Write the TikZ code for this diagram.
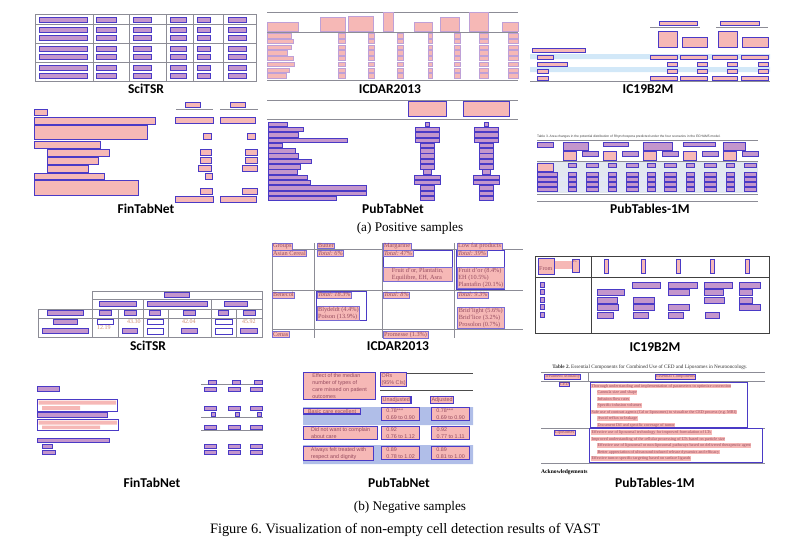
\documentclass[tikz,border=0pt]{standalone}
\usepackage{fontspec}
\setmainfont{Liberation Serif}
\newfontfamily\namefont{Carlito}
\newfontfamily\tabsans{Liberation Sans}
\usetikzlibrary{positioning}
\frenchspacing
\definecolor{cellpink}{RGB}{246,184,182}
\definecolor{densepink}{RGB}{196,150,204}
\definecolor{cellblue}{RGB}{74,58,198}
\definecolor{celllav}{RGB}{190,160,215}
\definecolor{rulegray}{RGB}{140,140,150}
\definecolor{celltext}{RGB}{150,75,95}
\definecolor{misstext}{RGB}{205,140,110}
\definecolor{skyband}{RGB}{210,232,248}
\definecolor{rowband}{RGB}{176,190,232}
\definecolor{greyband}{RGB}{226,232,240}
\newcommand{\Pt}[2]{\fontsize{#1}{#2}\selectfont}
\tikzset{
    cell/.style={draw=cellblue, fill=cellpink, line width=0.7pt},
    dense/.style={cell, fill=densepink},
    softcell/.style={draw=celllav, fill=cellpink, line width=0.4pt},
    hollow/.style={draw=cellblue, line width=0.7pt},
    rule/.style={draw=rulegray, line width=0.5pt},
    setname/.style={font=\namefont\bfseries\Pt{13.5}{15}},
    subcap/.style={font=\Pt{13.2}{15}},
    txt/.style={inner sep=0pt, anchor=north west, align=left, text=celltext},
    celltxt/.style={cell, draw=cellblue!75, line width=0.5pt, inner sep=0.8pt,
        anchor=north west, align=left, text=celltext, font=\Pt{6.3}{6.8}},
    ptcell/.style={cell, line width=1.2pt, inner sep=1pt, anchor=north west,
        align=left, text=celltext, font=\tabsans\Pt{5.4}{7}},
    ptmcell/.style={cell, line width=0.6pt, inner sep=0.6pt, anchor=north west,
        text=celltext, font=\Pt{4.4}{5}},
    ptmline/.style={fill=cellpink, inner sep=0.4pt, anchor=north west,
        text=celltext, font=\Pt{4.2}{5}},
}
\begin{document}
\begin{tikzpicture}[x=1pt, y=-1pt]
  \useasboundingbox (0,0) rectangle (796,554);

  % ---- (a) positive samples ----
  % SciTSR
  \draw[rule] (35,14) rectangle (256,81);
  \foreach \x in {93,129,166,193,223} \draw[rule] (\x,14) -- (\x,81);
  \foreach \y in {24,43,62} \draw[rule] (35,\y) -- (256,\y);
  \foreach \y in {17,27,35,46,54,65,73}
    \foreach \a/\b in {39/87,96/116,133/151,170/186,197/210,228/246}
      \draw[dense] (\a,\y) rectangle (\b,\y+5);
  \node[setname] (sciPos) at (146,89) {SciTSR};

  % ICDAR2013
  \draw[rule] (267,12) -- (518,12) (267,32) -- (518,32) (267,80) -- (518,80);
  \foreach \a/\t/\b in {267/22/298, 320/17/345, 348/16/373, 383/12/393,
      414/22/432, 440/17/459, 469/12/488, 502/22/518}
    \draw[softcell] (\a,\t) rectangle (\b,31);
  \foreach \i/\w in {0/24,1/26,2/24,3/20,4/26,5/27,6/22,7/19} {
    \draw[softcell] (267,33.5+\i*5.7) rectangle (267+\w,37.8+\i*5.7);
    \foreach \a/\b in {338/345,368/374,397/403,428/432,454/460,479/488,508/518}
      \draw[softcell] (\a,33.5+\i*5.7) rectangle (\b,37.8+\i*5.7);
  }
  \node[setname] (icdarPos) at (390,89) {ICDAR2013};

  % IC19B2M
  \fill[skyband] (530,54) rectangle (770,59) (530,67) rectangle (770,72);
  \draw[rule] (650,27) -- (700,27) (716,27) -- (768,27) (530,81) -- (770,81);
  \draw[cell] (659,21) rectangle (697,25) (720,21) rectangle (759,25);
  \draw[cell] (658,31) rectangle (677,47) (682,37) rectangle (707,47)
              (718,31) rectangle (737,47) (742,37) rectangle (768,47);
  \draw[cell] (532,48) rectangle (585,52);
  \foreach \y/\w in {55/16,62/30,69/11,76/11} \draw[cell] (537,\y) rectangle (537+\w,\y+4);
  \foreach \a/\b in {650/677,680/707,712/737,741/768} {
    \draw[cell] (\a,55) rectangle (\b,59);
    \draw[cell] (\b-10,62) rectangle (\b,66);
    \draw[cell] (\b-10,69) rectangle (\b,73);
    \draw[cell, line width=1pt] (\a,76) rectangle (\b,80);
  }
  \node[setname] (icPos) at (648,89) {IC19B2M};

  % FinTabNet
  \draw[rule] (176,109.5) -- (213,109.5) (220,109.5) -- (258,109.5);
  \draw[cell] (185,102) rectangle (200,107) (230,102) rectangle (245,107);
  \foreach \x/\y/\w/\h in {34/109/13/6, 34/117/121/7, 34/125/113/14, 34/141/66/7,
      47/149/62/7, 47/157/51/7, 47/165/41/7, 34/173/70/6, 34/180/104/15}
    \draw[cell] (\x,\y) rectangle (\x+\w,\y+\h);
  \foreach \a/\y/\b in {175/117/213, 220/117/255, 203/133/211, 247/133/255,
      200/149/211, 245/149/257, 200/157/211, 245/157/257, 198/165/211, 242/165/257,
      205/173/212, 200/188/212, 242/188/257, 175/196/213, 220/196/256}
    \draw[cell] (\a,\y) rectangle (\b,\y+6);
  \node[setname] (finPos) at (146,209) {FinTabNet};

  % PubTabNet
  \draw[rule] (267,100) -- (518,100) (267,119) -- (518,119);
  \draw[cell] (408,101) rectangle (446,116) (463,101) rectangle (509,116);
  \foreach \i/\w/\u in {0/19/2, 1/35/12, 2/30/12, 3/79/12, 4/14/7, 5/27/7, 6/30/7,
      7/43/7, 8/32/7, 9/29/4, 10/39/13, 11/42/13, 12/98/7, 13/98/7, 14/68/7} {
    \draw[dense] (268,122+\i*5.3) rectangle (268+\w,126.5+\i*5.3);
    \draw[dense] (427-\u,122+\i*5.3) rectangle (427+\u,126.5+\i*5.3);
    \draw[dense] (486-\u,122+\i*5.3) rectangle (486+\u,126.5+\i*5.3);
  }
  \node[setname] (pubPos) at (393,209) {PubTabNet};

  % PubTables-1M
  \node[txt, text=black!75, font=\tabsans\Pt{3.3}{4}] (tabThree) at (537,134.5)
    {Table 3. Area changes in the potential distribution of Rhynchospora predicted under the four scenarios in the ECHAM5 model.};
  \fill[greyband] (537,162) rectangle (758,193);
  \fill[rowband!35] (537,176.5) rectangle (758,181) (537,186.5) rectangle (758,191);
  \draw[rule] (537,140) -- (758,140) (537,161.5) -- (758,161.5)
              (537,194) -- (758,194) (537,201) -- (758,201);
  \draw[dense] (537,142) rectangle (553,147);
  \foreach \a/\b/\h in {563/588/8, 603/628/4, 643/672/8, 683/715/4, 723/745/8}
    \draw[dense] (\a,142) rectangle (\b,142+\h);
  \foreach \a in {563,603,643,683,723} {
    \draw[cell] (\a,151.5) rectangle (\a+13,160.5);
    \draw[dense] (\a+19,151.5) rectangle (\a+35,156.5);
  }
  \draw[cell] (537,163) rectangle (553,171);
  \foreach \y in {172,177,182,187} \draw[dense] (537,\y) rectangle (557,\y+4);
  \foreach \y in {163,172,177,182,187}
    \foreach \c/\u in {572/4,592/6,612/4,632/6,651/4,670/6,690/4,710/6,730/4,750/6}
      \draw[dense] (\c-\u,\y) rectangle (\c+\u,\y+4);
  \node[setname] (ptmPos) at (650,209) {PubTables-1M};

  \node[subcap] (capPos) at (410,228) {(a) Positive samples};

  % ---- (b) negative samples ----
  % SciTSR
  \draw[rule] (92,291) rectangle (262,337) (38,309) rectangle (92,337);
  \draw[rule] (92,299) -- (262,299) (92,309) -- (262,309) (38,318) -- (262,318);
  \foreach \x in {143,211} \draw[rule] (\x,299) -- (\x,337);
  \foreach \x in {118,168,236} \draw[rule] (\x,309) -- (\x,337);
  \draw[dense] (164,292) rectangle (189,297);
  \foreach \a/\b in {99/136,147/207,224/247} \draw[dense] (\a,301) rectangle (\b,306);
  \foreach \a/\b in {47/83,99/111,124/136,149/160,183/195,218/228,243/255}
    \draw[dense] (\a,310) rectangle (\b,315);
  \draw[dense] (53,319) rectangle (77,324) (42,328) rectangle (88,333)
    (122,328) rectangle (137,333) (181,328) rectangle (197,333) (240,328) rectangle (257,333);
  \foreach \a/\b in {97/113,147/163,215/232} \draw[hollow] (\a,319) rectangle (\b,324);
  \foreach \a/\b in {147/163,215/232} \draw[hollow] (\a,328) rectangle (\b,334);
  \node[txt, text=misstext, font=\Pt{6}{7}] (missA) at (97,325.5) {12.19};
  \node[txt, text=misstext, font=\Pt{6}{7}] (missB) at (127,319) {43.30};
  \node[txt, text=misstext, font=\Pt{6}{7}] (missC) at (182,319) {42.04};
  \node[txt, text=misstext, font=\Pt{6}{7}] (missD) at (242,319) {45.92};
  \node[setname] (sciNeg) at (148,346) {SciTSR};

  % ICDAR2013
  \foreach \x in {272,314,382,454} \draw[rule] (\x,243) -- (\x,338);
  \draw[rule] (272,249) -- (523,249) (272,290) -- (523,290) (272,329) -- (523,329);
  \node[celltxt] (grp) at (272,242.5) {Groups};
  \node[celltxt] (but) at (317,242.5) {Butter};
  \node[celltxt] (mar) at (383,242.5) {Margarine};
  \node[celltxt] (low) at (457,242.5) {Low fat products};
  \node[celltxt] (asi) at (272,250) {Asian Cereal};
  \node[celltxt] (totA) at (317,250) {\textit{Total: 6\%}};
  \draw[hollow] (383,250) rectangle (452,280);
  \node[celltxt] (totB) at (383,250) {\textit{Total: 47\%}};
  \node[celltxt, minimum width=69pt] (brA) at (383,267) {Fruit d'or, Plantafin,\\Equilibre, EH, Asra};
  \draw[hollow] (456,250) rectangle (504,289);
  \node[celltxt] (totC) at (457,250) {\textit{Total: 39\%}};
  \node[celltxt, minimum width=47pt] (brC) at (457,267) {Fruit d'or (8.4\%)\\EH (10.5\%)\\Plantafin (20.1\%)};
  \node[celltxt] (ben) at (272,291.5) {Benecol};
  \draw[hollow] (316,291) rectangle (366,320);
  \node[celltxt] (totD) at (317,291.5) {\textit{Total: 18.3\%}};
  \node[celltxt] (brD) at (317,306) {Blydeldt (4.4\%)\\Poison (13.9\%)};
  \node[celltxt] (totE) at (383,291.5) {\textit{Total: 8\%}};
  \node[celltxt] (totF) at (457,291.5) {\textit{Total: 9.3\%}};
  \node[celltxt, minimum width=47pt] (brF) at (457,307) {Brid'light (5.6\%)\\Brid'lice (3.2\%)\\Prosolon (0.7\%)};
  \node[celltxt] (cen) at (272,331) {Cenas};
  \node[celltxt] (pro) at (383,331) {Promesse (1.3\%)};
  \node[setname] (icdarNeg) at (398,346) {ICDAR2013};

  % IC19B2M
  \draw[black!75, line width=0.8pt] (535,256) rectangle (769,333)
    (591,256) -- (591,333) (535,277) -- (769,277);
  \fill[cellpink] (554,261) rectangle (572,269);
  \draw[cell] (538,258) rectangle (554,274) (572,259) rectangle (579,272);
  \node[txt, font=\Pt{6}{6}] (from) at (539,266) {From};
  \node[txt, font=\Pt{4}{4}] (ic) at (573,260) {IC};
  \foreach \x in {604,641,676,710,745} \draw[cell] (\x,259) rectangle (\x+4,273);
  \foreach \y in {282,289.5,297,304.5,312} \draw[dense] (540,\y) rectangle (544,\y+5);
  \foreach \y/\a/\b in {282/632/660, 282/668/697, 282/704/732, 282/739/760,
      289.5/597/624, 289.5/668/689, 289.5/704/723, 289.5/739/752,
      297/597/617, 297/633/654, 297/704/724, 297/739/752,
      304.5/597/618, 304.5/633/654, 304.5/668/689, 304.5/739/760,
      312/597/613, 312/633/648, 312/668/683, 312/705/719}
    \draw[dense] (\a,\y) rectangle (\b,\y+6);
  \node[setname] (icNeg) at (655,347) {IC19B2M};

  % FinTabNet
  \draw[dense] (37,386) rectangle (59,391);
  \draw[hollow] (37,399) rectangle (117,411);
  \fill[cellpink] (38.5,400.5) rectangle (116,404.5) (42,406) rectangle (80,410);
  \draw[dense] (37,412) rectangle (107,417);
  \draw[hollow] (37,419) rectangle (118,430);
  \fill[cellpink] (38.5,420.5) rectangle (117,424.5) (42,425.5) rectangle (100,429);
  \draw[dense] (37,438) rectangle (109,442) (42,444) rectangle (52,448) (42,450) rectangle (55,454);
  \draw[rule] (201,384.5) -- (263,384.5) (201,417.5) -- (263,417.5) (201,430) -- (263,430);
  \foreach \a in {204,228,250} {
    \draw[dense] (\a+4,380) rectangle (\a+12,384);
    \foreach \y in {387,406,425,444,450}
      \draw[dense] (\a,\y) rectangle (\a+12,\y+4);
    \draw[dense] (\a+7,412) rectangle (\a+11,416);
  }
  \node[setname] (finNeg) at (152,483) {FinTabNet};

  % PubTabNet
  \fill[rowband] (303,407) rectangle (473,425) (303,445) rectangle (473,464);
  \draw[black!70, line width=0.6pt] (380,373) -- (473,373) (380,390) -- (473,390);
  \node[ptcell, minimum width=72pt] (effect) at (303,372)
    {Effect of the median\\number of types of\\care missed on patient\\outcomes};
  \node[ptcell] (ors) at (380,372) {ORs\\(95\% CIs)};
  \node[ptcell] (unadj) at (381,396) {Unadjusted};
  \node[ptcell] (adj) at (430,396) {Adjusted};
  \node[ptcell, minimum width=57pt] (basic) at (303,407.5) {Basic care excellent};
  \node[ptcell, minimum width=38pt] (valA) at (381,407) {0.78***\\0.69 to 0.90};
  \node[ptcell, minimum width=38pt] (valB) at (431,407) {0.78***\\0.69 to 0.90};
  \node[ptcell, minimum width=74pt] (complain) at (303,426) {Did not want to complain\\about care};
  \node[ptcell, minimum width=38pt] (valC) at (381,426) {0.92\\0.76 to 1.12};
  \node[ptcell, minimum width=38pt] (valD) at (431,426) {0.92\\0.77 to 1.11};
  \node[ptcell, minimum width=70pt] (respect) at (303,446) {Always felt treated with\\respect and dignity};
  \node[ptcell, minimum width=38pt] (valE) at (381,446) {0.89\\0.78 to 1.02};
  \node[ptcell, minimum width=38pt] (valF) at (431,446) {0.89\\0.81 to 1.00};
  \node[setname] (pubNeg) at (399,483) {PubTabNet};

  % PubTables-1M
  \node[inner sep=0pt, text=black!80, font=\Pt{5.2}{6}] (tabTwo) at (650,367)
    {\textbf{Table 2.} Essential Components for Combined Use of CED and Liposomes in Neurooncology.};
  \draw[rule] (541,372) -- (765,372) (541,381) -- (765,381) (541,428) -- (765,428)
              (541,463) -- (765,463) (588,372) -- (588,381);
  \node[ptmcell] (modality) at (544,374) {Treatment Modality};
  \node[ptmcell] (components) at (655,374) {Essential Components};
  \node[ptmcell] (ced) at (559,382) {CED};
  \node[ptmcell] (lipo) at (554,429.5) {Liposomes};
  \node[ptmline] (lnA) at (591,383.5) {Thorough understanding and implementation of parameters to optimize convection};
  \node[ptmline] (lnB) at (597,390) {Cannula size and shape};
  \node[ptmline] (lnC) at (597,396.5) {Infusion flow rates};
  \node[ptmline] (lnD) at (597,403) {Specific infusion volumes};
  \node[ptmline] (lnE) at (591,409.5) {Safe use of contrast agents (Gd or liposomes) to visualize the CED process (e.g. MRI)};
  \node[ptmline] (lnF) at (597,416) {Avoid reflux or leakage};
  \node[ptmline] (lnG) at (597,422.5) {Document DiI and specific coverage of tumor};
  \node[ptmline] (lnH) at (591,430) {Effective use of liposomal technology for improved formulation of LTs};
  \node[ptmline] (lnI) at (591,436.5) {Improved understanding of the cellular processing of LTs based on particle size};
  \node[ptmline] (lnJ) at (597,443) {Effective use of liposomal or non-liposomal pathways based on delivered therapeutic agent};
  \node[ptmline] (lnK) at (597,449.5) {Better appreciation of ultrasound-induced release dynamics and efficacy};
  \node[ptmline] (lnL) at (591,456) {Effective tumor-specific targeting based on surface ligands};
  \draw[hollow] (590,382) rectangle (747,427.5) (589,428.5) rectangle (762,462);
  \node[inner sep=0pt, anchor=west, font=\bfseries\Pt{5.6}{6}] (ack) at (541,472) {Acknowledgements};
  \node[setname] (ptmNeg) at (655,483) {PubTables-1M};

  \node[subcap] (capNeg) at (410,507) {(b) Negative samples};
  \node[font=\Pt{14.4}{16}] (figCap) at (405,530) {Figure 6. Visualization of non-empty cell detection results of VAST};
\end{tikzpicture}
\end{document}
